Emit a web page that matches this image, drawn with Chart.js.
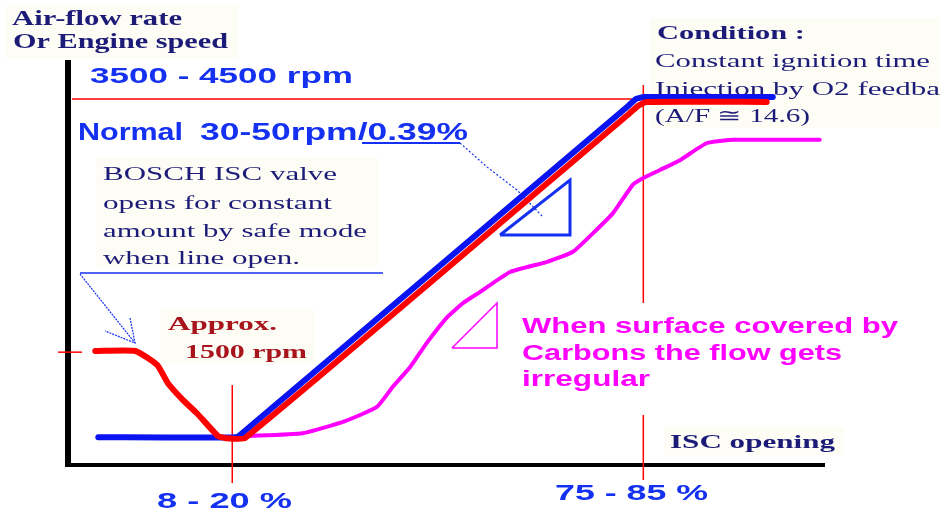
<!DOCTYPE html>
<html>
<head>
<meta charset="utf-8">
<script src="https://cdn.jsdelivr.net/npm/chart.js@4.4.1/dist/chart.umd.min.js"></script>
<style>
  html, body { margin: 0; padding: 0; background: #fff; }
  #wrap { width: 940px; height: 513px; }
</style>
</head>
<body>
<div id="wrap"><canvas id="c" width="940" height="513"></canvas></div>
<script>
// ---------- Data (x = ISC opening, 0-100 ; y = air-flow / engine speed, 0-100) ----------
const blueX = [4.0, 22.2, 23.2, 74.0, 75.0, 76.1, 93.1];
const blueY = [6.9, 6.9, 8.2, 89.1, 90.8, 91.3, 91.3];

const redX = [3.6, 8.9, 11.8, 13.2, 15.2, 17.0, 19.8, 20.7, 23.4, 74.2, 75.3, 76.4, 92.3];
const redY = [28.3, 28.3, 24.8, 20.3, 16.1, 12.9, 7.2, 6.7, 6.7, 87.3, 89.1, 90.1, 90.1];

const magX = [23.7, 31.0, 36.6, 40.8, 42.9, 45.2, 47.4, 50.1, 52.2, 54.4, 58.4, 63.3, 66.7, 69.4, 72.0, 74.6, 76.0, 78.2, 80.9, 84.4, 87.9, 99.3];
const magY = [7.2, 7.9, 10.9, 14.4, 19.4, 24.3, 30.3, 36.7, 40.2, 42.9, 47.9, 50.4, 52.9, 57.6, 62.5, 69.5, 71.2, 73.2, 75.7, 79.9, 80.7, 80.7];

// reference lines
const guideVx = [21.7, 76.0];       // "8 - 20 %" and "75 - 85 %"
const guideHy = [90.8, 28.0];       // "3500 - 4500 rpm" and start level

const pts = (xs, ys) => xs.map((x, i) => ({ x, y: ys[i] }));

const NAVY = '#1c1c78';
const BLUE = '#1430f0';
const SERIF = '"Liberation Serif", "DejaVu Serif", serif';
const SANS = '"Liberation Sans", Arial, sans-serif';

// draw text stretched to a given width
function put(ctx, s, x, y, font, color, w, fitPart){
  ctx.font = font;
  ctx.fillStyle = color;
  ctx.textBaseline = 'alphabetic';
  ctx.textAlign = 'left';
  const m = ctx.measureText(fitPart || s).width;
  ctx.save();
  ctx.translate(x, y);
  if (w) ctx.scale(w / m, 1);
  ctx.fillText(s, 0, 0);
  ctx.restore();
}

function line(ctx, pts, color, width, dash){
  ctx.save();
  ctx.strokeStyle = color;
  ctx.lineWidth = width;
  ctx.setLineDash(dash || []);
  ctx.beginPath();
  pts.forEach((p, i) => i ? ctx.lineTo(p[0], p[1]) : ctx.moveTo(p[0], p[1]));
  ctx.stroke();
  ctx.restore();
}

const decor = {
  id: 'decor',
  beforeDatasetsDraw(chart){
    const ctx = chart.ctx;
    const xs = chart.scales.x, ys = chart.scales.y;
    const ca = chart.chartArea;

    // faint backgrounds behind the serif notes
    ctx.fillStyle = '#fdfdf6';
    ctx.fillRect(6, 4, 232, 54);
    ctx.fillRect(650, 18, 290, 110);
    ctx.fillRect(96, 158, 282, 110);
    ctx.fillRect(160, 308, 154, 56);
    ctx.fillRect(664, 427, 180, 28);

    // axes
    line(ctx, [[ca.left, 60], [ca.left, ca.bottom + 2]], '#000', 6);
    line(ctx, [[ca.left - 3, ca.bottom], [ca.right, ca.bottom]], '#000', 4);

    // red guide lines
    const hTop = ys.getPixelForValue(guideHy[0]);
    line(ctx, [[ca.left + 4, hTop], [xs.getPixelForValue(74.5), hTop]], '#ff0000', 1.5);
    const hLow = ys.getPixelForValue(guideHy[1]);
    line(ctx, [[58, hLow], [82, hLow]], '#ff0000', 1.5);
    const v1 = xs.getPixelForValue(guideVx[0]);
    line(ctx, [[v1, 385], [v1, 483]], '#ff0000', 1.5);
    const v2 = xs.getPixelForValue(guideVx[1]);
    line(ctx, [[v2, 85], [v2, 303]], '#ff0000', 1.5);
    line(ctx, [[v2, 415], [v2, 480]], '#ff0000', 1.5);

    // texts
    put(ctx, 'Air-flow rate', 12, 25, 'bold 21px ' + SERIF, NAVY, 170);
    put(ctx, 'Or Engine speed', 13, 48, 'bold 21px ' + SERIF, NAVY, 215);

    put(ctx, '3500 - 4500 rpm', 90, 83, 'bold 22px ' + SANS, BLUE, 263);
    put(ctx, 'Normal', 78, 140, 'bold 23px ' + SANS, BLUE, 105);
    put(ctx, '30-50rpm/0.39%', 200, 140, 'bold 23px ' + SANS, BLUE, 268);

    put(ctx, 'BOSCH ISC valve', 103, 180, '19px ' + SERIF, NAVY, 234);
    put(ctx, 'opens for constant', 103, 209, '19px ' + SERIF, NAVY, 229);
    put(ctx, 'amount by safe mode', 103, 237, '19px ' + SERIF, NAVY, 264);
    put(ctx, 'when line open.', 103, 264, '19px ' + SERIF, NAVY, 197);

    put(ctx, 'Approx.', 168, 330, 'bold 19px ' + SERIF, '#a8141c', 109);
    put(ctx, '1500 rpm', 185, 358, 'bold 19px ' + SERIF, '#a8141c', 122);

    put(ctx, 'When surface covered by', 522, 333, 'bold 22px ' + SANS, '#ff00ff', 376);
    put(ctx, 'Carbons the flow gets', 522, 360, 'bold 22px ' + SANS, '#ff00ff', 320);
    put(ctx, 'irregular', 522, 386, 'bold 22px ' + SANS, '#ff00ff', 128);

    put(ctx, 'ISC opening', 670, 448, 'bold 19px ' + SERIF, NAVY, 165);
    put(ctx, '75 - 85 %', 555, 500, 'bold 22px ' + SANS, BLUE, 153);
    put(ctx, '8 - 20 %', 157, 508, 'bold 22px ' + SANS, BLUE, 135);

    put(ctx, 'Condition :', 657, 39, 'bold 19px ' + SERIF, NAVY, 148);
    put(ctx, 'Constant ignition time', 655, 67, '19px ' + SERIF, NAVY, 275);
    put(ctx, 'Injection by O2 feedback', 655, 95, '19px ' + SERIF, NAVY, 285, 'Injection by O2 feedba');
    put(ctx, '(A/F \u2245 14.6)', 655, 122, '19px ' + SERIF, NAVY, 155);

    // underline + leader to the slope triangle
    line(ctx, [[362, 143], [460, 143]], BLUE, 2);
    line(ctx, [[460, 143], [487, 167], [517, 190], [543, 217]], BLUE, 1.2, [2, 2]);
    line(ctx, [[500, 235], [570, 180], [570, 235], [500, 235]], BLUE, 3);

    // BOSCH note underline + arrow
    line(ctx, [[80, 273], [383, 273]], BLUE, 1.5);
    line(ctx, [[80, 274], [135, 343]], BLUE, 1.2, [2, 1]);
    line(ctx, [[130, 318], [135, 343], [105, 331]], BLUE, 1.2, [2, 1]);

    // magenta slope triangle
    line(ctx, [[452, 348], [497, 303], [497, 348], [452, 348]], '#ff00ff', 1.5);
  }
};

new Chart(document.getElementById('c'), {
  type: 'scatter',
  data: {
    datasets: [
      { label: 'Clogged', data: pts(redX, redY), borderColor: '#ff0000', borderWidth: 6, order: 0 },
      { label: 'Normal', data: pts(blueX, blueY), borderColor: '#0a14f0', borderWidth: 6, order: 1 },
      { label: 'Carbon', data: pts(magX, magY), borderColor: '#ff00ff', borderWidth: 4, order: 2 }
    ].map(d => Object.assign(d, {
      showLine: true, pointRadius: 0, tension: 0.15, fill: false,
      borderJoinStyle: 'round', borderCapStyle: 'round'
    }))
  },
  options: {
    responsive: false,
    animation: false,
    layout: { padding: { left: 68, right: 115, top: 62, bottom: 48 } },
    scales: {
      x: { type: 'linear', min: 0, max: 100, display: false },
      y: { type: 'linear', min: 0, max: 100, display: false }
    },
    plugins: { legend: { display: false }, tooltip: { enabled: false } }
  },
  plugins: [decor]
});
</script>
</body>
</html>
